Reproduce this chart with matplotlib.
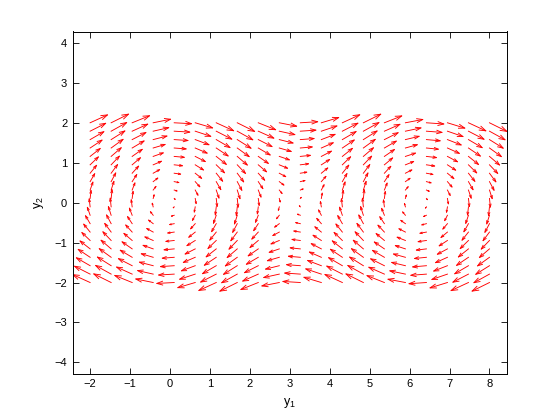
#! /usr/bin/env python3
# -*- coding: utf-8 -*-
import numpy as np
import matplotlib
matplotlib.use("Agg")
import matplotlib.pyplot as plt

plt.rcParams['font.family'] = ['Liberation Sans', 'DejaVu Sans']

# grid of the direction field (pendulum: y1' = y2, y2' = -sin(y1))
y1_range = (-2, 8)
y2_range = (-2, 2)
n_pts = 20
xticks = [-2, -1, 0, 1, 2, 3, 4, 5, 6, 7, 8]
yticks = [-4, -3, -2, -1, 0, 1, 2, 3, 4]

y1 = np.linspace(y1_range[0], y1_range[1], n_pts)
y2 = np.linspace(y2_range[0], y2_range[1], n_pts)
X, Y = np.meshgrid(y1, y2)
U = Y
V = -np.sin(X)

# matlab-style autoscale of the arrows
delx = (X.max() - X.min()) / n_pts
dely = (Y.max() - Y.min()) / n_pts
del2 = delx**2 + dely**2
s = 0.9 / np.max(np.sqrt((U**2 + V**2) / del2))
u = (U * s).ravel()
v = (V * s).ravel()
x = X.ravel()
y = Y.ravel()

alpha, beta = 0.33, 0.33
nan = np.full_like(x, np.nan)
shaft_x = np.stack([x, x + u, nan]).T.ravel()
shaft_y = np.stack([y, y + v, nan]).T.ravel()
head_x = np.stack([x + u - alpha * (u + beta * v), x + u,
                   x + u - alpha * (u - beta * v), nan]).T.ravel()
head_y = np.stack([y + v - alpha * (v - beta * u), y + v,
                   y + v - alpha * (v + beta * u), nan]).T.ravel()

fig = plt.figure(figsize=(5.6, 4.2), dpi=100)
ax = fig.add_axes([0.13, 0.11, 0.775, 0.815])
ax.plot(shaft_x, shaft_y, color='r', lw=0.65)
ax.plot(head_x, head_y, color='r', lw=0.65)

# tight x limits, equal aspect fills y
allx = np.concatenate([shaft_x, head_x])
xmin, xmax = np.nanmin(allx), np.nanmax(allx)
ax.set_xlim(xmin, xmax)
ratio = (0.815 * 4.2) / (0.775 * 5.6)
yh = (xmax - xmin) * ratio / 2
ax.set_ylim(-yh, yh)

ax.set_xticks(xticks)
ax.set_yticks(yticks)
ax.tick_params(direction='in', top=True, right=True, length=4.5, width=0.6,
               labelsize=8, pad=4)
for sp in ax.spines.values():
    sp.set_linewidth(0.7)
ax.set_xlabel(r'$\mathregular{y_1}$', fontsize=9, labelpad=5)
ax.set_ylabel(r'$\mathregular{y_2}$', fontsize=9, labelpad=6)

fig.savefig('out.png', dpi=100)
